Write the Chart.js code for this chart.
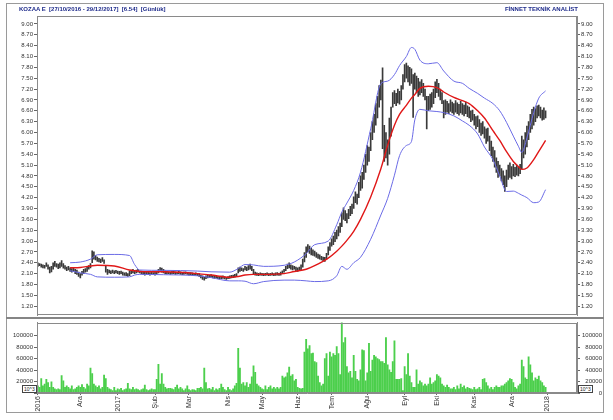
<!DOCTYPE html>
<html>
<head>
<meta charset="utf-8">
<script src="https://cdn.jsdelivr.net/npm/chart.js@4.4.1/dist/chart.umd.min.js"></script>
<style>
  body { margin: 0; background: #fff; width: 613px; height: 420px; overflow: hidden; position: relative; font-family: "Liberation Sans", Arial, sans-serif; }
  #frame { position: absolute; left: 6px; top: 3px; width: 598px; height: 410px; border: 1px solid #9a9a9a; box-sizing: border-box; }
  #divider { position: absolute; left: 6px; top: 317px; width: 598px; height: 2px; background: #858585; }
  .title { position: absolute; top: 5px; font-size: 6px; font-weight: bold; color: #1d2a8a; white-space: pre; line-height: 8px; }
  #titleLeft { left: 19px; }
  #titleRight { right: 35px; }
  #priceChart { position: absolute; left: 0; top: 0; }
  #volChart { position: absolute; left: 0; top: 318px; }
  .exp { position: absolute; top: 385px; font-size: 5px; line-height: 6px; border: 1px solid #444; padding: 0 1px; color: #222; background: #fff; }
</style>
</head>
<body>
<div id="frame"></div>
<canvas id="priceChart" width="613" height="320"></canvas>
<canvas id="volChart" width="613" height="102"></canvas>
<div id="divider"></div>
<div class="title" id="titleLeft">KOZAA E  [27/10/2016 - 29/12/2017]  [6.54]  [Günlük]</div>
<div class="title" id="titleRight">FİNNET TEKNİK ANALİST</div>
<div class="exp" style="left:22px">10^3</div>
<div class="exp" style="left:578px">10^3</div>
<script>
// trading day index 0 = 27/10/2016, 299 = 29/12/2017
const monthLabels = ["2016", "Ara", "2017", "Şub", "Mar", "Nis", "May", "Haz", "Tem", "Ağu", "Eyl", "Eki", "Kas", "Ara", "2018"];
const monthStart = [0, 25, 47, 69, 89, 112, 132, 153, 173, 194, 216, 235, 257, 279, 300];

const priceTicks = [1.2, 1.5, 1.8, 2.1, 2.4, 2.7, 3.0, 3.3, 3.6, 3.9, 4.2, 4.5, 4.8, 5.1, 5.4, 5.7, 6.0, 6.3, 6.6, 6.9, 7.2, 7.5, 7.8, 8.1, 8.4, 8.7, 9.0];
const volTicks = [0, 20000, 40000, 60000, 80000, 100000];

const lows = [
  2.30, 2.32, 2.28, 2.26, 2.25, 2.30, 2.22, 2.12, 2.15, 2.22, 2.30, 2.28, 2.24, 2.26, 2.30, 2.25,
  2.22, 2.18, 2.20, 2.16, 2.14, 2.16, 2.10, 2.08, 2.02, 1.98,
  2.06, 2.10, 2.14, 2.16, 2.22, 2.26,
  2.40, 2.50, 2.48, 2.44, 2.42, 2.40, 2.44, 2.38,
  2.14, 2.08, 2.12, 2.10, 2.12, 2.10, 2.12, 2.10, 2.08, 2.10, 2.06, 2.05, 2.04, 2.02, 2.04, 2.10,
  2.12, 2.10, 2.12, 2.14, 2.12, 2.10, 2.08,
  2.06, 2.08, 2.07, 2.06, 2.08, 2.07, 2.06, 2.08, 2.12, 2.16, 2.14, 2.12,
  2.10, 2.09, 2.10, 2.08, 2.09, 2.10, 2.08, 2.09, 2.10, 2.08, 2.07, 2.08, 2.09, 2.08, 2.06, 2.07, 2.06, 2.05, 2.06, 2.04,
  2.02, 1.98, 1.94, 1.92, 1.96, 1.98,
  1.99, 2.00, 1.98, 1.97, 1.98, 1.96, 1.95, 1.96, 1.97, 1.95, 1.94, 1.96, 1.97, 1.98, 1.99, 2.00, 2.02,
  2.12, 2.16, 2.18, 2.16, 2.20, 2.18, 2.20, 2.22, 2.18, 2.10,
  2.06, 2.05, 2.04, 2.06, 2.05, 2.04, 2.05, 2.06, 2.04, 2.05, 2.06, 2.04, 2.05, 2.06, 2.05, 2.06, 2.10, 2.14,
  2.18, 2.24, 2.26, 2.22, 2.20, 2.22, 2.18, 2.16, 2.18, 2.20, 2.28, 2.42, 2.55,
  2.70, 2.66, 2.62, 2.60, 2.58, 2.55, 2.52, 2.50, 2.48, 2.45, 2.44, 2.50,
  2.62, 2.74, 2.86, 2.90, 2.98, 3.06, 3.14, 3.24,
  3.40, 3.60, 3.56, 3.50, 3.62, 3.70, 3.76,
  3.90, 4.06, 4.02, 4.20, 4.40,
  4.46, 4.70, 4.90, 5.10, 5.20,
  5.50, 5.80, 6.00, 6.20, 6.40, 6.70, 6.90, 5.55,
  5.20, 5.30, 5.10, 5.40, 5.90,
  6.70, 6.80, 6.74, 6.82, 6.78, 6.90,
  7.20, 7.40, 7.50, 7.40, 7.30, 7.36, 6.42, 7.20, 7.10, 7.00,
  7.04, 7.10, 7.00, 6.90, 6.10, 6.60, 6.64, 6.70, 6.80, 6.96, 7.10, 7.00, 6.90, 6.80,
  6.40, 6.50, 6.56, 6.52, 6.58, 6.54, 6.50, 6.56, 6.52, 6.48, 6.54, 6.50, 6.46, 6.52, 6.44,
  6.40, 6.30, 6.34, 6.20, 6.10, 6.16, 6.00, 5.92, 5.96, 5.84, 5.70, 5.76,
  5.50, 5.36, 5.20, 5.04, 4.90, 4.76, 4.80, 4.66, 4.56, 4.37, 4.50,
  4.70, 4.76, 4.72, 4.80, 4.78, 4.82, 4.80, 4.86,
  5.00, 5.30, 5.40, 5.60, 5.80, 6.00, 6.10, 6.20,
  6.30, 6.40, 6.46, 6.40, 6.34, 6.36, 6.40
];

const highs = [
  2.40, 2.38, 2.36, 2.34, 2.33, 2.40, 2.34, 2.28, 2.30, 2.40, 2.44, 2.38, 2.36, 2.40, 2.46, 2.38,
  2.32, 2.28, 2.30, 2.26, 2.24, 2.26, 2.22, 2.20, 2.14, 2.10,
  2.16, 2.22, 2.24, 2.30, 2.32, 2.38,
  2.73, 2.70, 2.60, 2.56, 2.52, 2.50, 2.54, 2.48,
  2.30, 2.22, 2.20, 2.18, 2.20, 2.18, 2.19, 2.17, 2.16, 2.17, 2.14, 2.12, 2.13, 2.10, 2.18, 2.20,
  2.22, 2.18, 2.20, 2.22, 2.18, 2.17, 2.16,
  2.14, 2.15, 2.14, 2.13, 2.14, 2.13, 2.14, 2.16, 2.22, 2.27, 2.25, 2.22,
  2.18, 2.16, 2.15, 2.14, 2.16, 2.17, 2.15, 2.14, 2.18, 2.15, 2.13, 2.14, 2.15, 2.13, 2.12, 2.13, 2.12, 2.11, 2.12, 2.10,
  2.10, 2.06, 2.04, 2.00, 2.04, 2.05,
  2.06, 2.07, 2.04, 2.03, 2.05, 2.02, 2.01, 2.03, 2.04, 2.02, 2.00, 2.02, 2.04, 2.05, 2.06, 2.08, 2.10,
  2.26, 2.28, 2.26, 2.24, 2.30, 2.28, 2.32, 2.36, 2.30, 2.22,
  2.14, 2.12, 2.11, 2.12, 2.11, 2.10, 2.11, 2.12, 2.10, 2.11, 2.12, 2.10, 2.12, 2.13, 2.11, 2.14, 2.18, 2.22,
  2.30, 2.36, 2.40, 2.34, 2.32, 2.30, 2.28, 2.26, 2.28, 2.34, 2.50, 2.68, 2.84,
  2.90, 2.86, 2.80, 2.76, 2.72, 2.68, 2.64, 2.62, 2.58, 2.56, 2.55, 2.66,
  2.84, 2.96, 3.06, 3.14, 3.24, 3.30, 3.40, 3.50,
  3.78, 3.92, 3.84, 3.76, 3.88, 3.96, 4.02,
  4.22, 4.36, 4.30, 4.62, 4.80,
  4.90, 5.10, 5.40, 5.64, 5.60,
  6.00, 6.30, 6.50, 6.80, 7.00, 7.30, 7.45, 7.79,
  6.20, 6.00, 5.80, 6.40, 6.70,
  7.10, 7.16, 7.08, 7.20, 7.14, 7.30,
  7.60, 7.88, 7.92, 7.84, 7.80, 7.76, 7.60, 7.64, 7.56, 7.50,
  7.40, 7.46, 7.36, 7.20, 7.00, 7.00, 7.06, 7.10, 7.20, 7.40, 7.47, 7.36, 7.20, 7.10,
  6.88, 6.90, 6.86, 6.80, 6.90, 6.84, 6.80, 6.88, 6.82, 6.78, 6.86, 6.80, 6.76, 6.84, 6.74,
  6.70, 6.60, 6.62, 6.50, 6.44, 6.46, 6.36, 6.26, 6.30, 6.16, 6.10, 6.12,
  5.90, 5.76, 5.60, 5.50, 5.30, 5.20, 5.10, 5.00, 4.94, 4.80, 4.96,
  5.10, 5.16, 5.06, 5.12, 5.04, 5.10, 5.06, 5.12,
  5.90, 5.80, 6.00, 6.18, 6.30, 6.50, 6.64, 6.70,
  6.66, 6.74, 6.76, 6.70, 6.62, 6.68, 6.60
];

// volume, in units of 10^3
const volumes = [
  12700, 9900, 25000, 12700, 15500, 23900, 18300, 9900, 19400, 9900,
  7100, 5900, 7100, 5900, 30600, 21100, 9900, 12700, 9900, 7100,
  12700, 5900, 7100, 9900, 12700, 9900, 14900, 9900, 7100, 15500,
  12700, 43500, 33900, 15500, 12700, 9900, 12700, 7100, 9900, 31100,
  25000, 9900, 7100, 5900, 4300, 9900, 4300, 7100, 5900, 8200,
  4300, 5900, 7100, 17100, 7100, 5900, 9900, 5900, 7100,
  5900, 4300, 5900, 7100, 13800, 5900, 4300, 5400, 7100,
  5900, 5900, 23900, 50200, 15500, 33900, 15500, 9900, 7100, 8200,
  8200, 7100, 5900, 9900, 13800, 7100, 9900, 7100, 4300, 7100,
  12700, 5900, 4300, 5900, 5400, 4300, 8200, 8200, 9900, 7100,
  43500, 18300, 7100, 8200, 5900, 9900, 4300, 7100, 5400, 8200,
  15500, 9900, 5900, 4300, 9900, 5900, 4300, 7100, 12700, 17100,
  78200, 43500, 15500, 18300, 12700, 18300, 9900, 15500, 28300, 47400,
  36200, 15500, 12700, 9900, 7100, 5900, 12700, 5900, 9900, 12700,
  7100, 9900, 7100, 9900, 7100, 9900, 29500, 26700, 28300, 35100,
  45100,
  29500, 32300, 21100, 23900, 9900, 8200, 7100, 8200, 71500, 93900,
  77100, 82700, 68700, 69800, 54700, 53000, 29500, 18300, 12700, 15500,
  60300, 68700, 29500, 71500, 63100, 68700, 65900, 81000, 68700, 32300,
  126000, 88300, 96700, 46300, 35100, 37900, 26700, 65900, 37900, 23900,
  21100, 40700, 75400, 74300, 21100, 35100, 86600, 37900, 57500, 65900,
  63100, 60300, 58600, 54700, 54700, 51900, 96700, 49100, 40700, 36200,
  54700, 91100, 23900, 23900, 23900, 25000, 4300, 46300, 32300, 68700,
  29500, 18300, 9900, 9900, 40700, 15500, 21100, 18300, 12700, 15500,
  12700, 15500, 26700, 15500, 18300, 21100, 32300, 29500, 26700, 15500,
  12700, 9900, 13800, 9900, 7100, 7100, 9900, 5900, 12700, 7100,
  15500, 9900, 12700, 7100, 9900, 8200, 7100, 5900, 9900,
  5900, 7100, 9900, 5900, 23900, 25000, 18300, 12700, 7100,
  9900, 5900, 9900, 12700, 9900, 9900, 12700, 12700, 15500, 18300,
  21100, 25000, 23900, 18300, 9900, 7100, 12700, 15500, 57500, 46300,
  26700, 23900, 63100, 49100, 35100, 21100, 26700, 23900, 29500, 21100,
  18300, 12700, 9900
];

// 20 day bollinger band at these days
const bandDays = [19, 25, 31, 35, 45, 54, 57, 60, 74, 94, 102, 113, 118, 122, 127, 133, 145, 151, 158, 163, 171, 176, 179, 182, 186, 190, 196, 202, 206, 210, 213, 217, 220, 222, 225, 230, 235, 239, 245, 250, 254, 259, 263, 268, 272, 276, 280, 283, 285, 288, 292, 295, 299];
const upperBand = [2.40, 2.42, 2.50, 2.62, 2.63, 2.60, 2.35, 2.20, 2.19, 2.17, 2.15, 2.14, 2.24, 2.35, 2.34, 2.30, 2.33, 2.42, 2.65, 2.90, 3.00, 3.45, 3.80, 4.05, 4.40, 4.90, 6.10, 7.35, 7.42, 7.60, 7.85, 8.10, 8.35, 8.30, 8.00, 7.90, 7.93, 7.70, 7.42, 7.36, 7.22, 7.08, 6.95, 6.80, 6.60, 6.28, 5.90, 5.62, 5.45, 5.85, 6.55, 6.95, 7.15];
const middleBand = [2.26, 2.27, 2.31, 2.33, 2.31, 2.20, 2.18, 2.16, 2.15, 2.10, 2.06, 2.00, 2.02, 2.06, 2.08, 2.08, 2.10, 2.16, 2.22, 2.32, 2.53, 2.72, 2.86, 3.02, 3.27, 3.60, 4.22, 5.00, 5.65, 6.20, 6.50, 6.75, 6.95, 7.05, 7.22, 7.28, 7.24, 7.12, 6.97, 6.88, 6.80, 6.60, 6.40, 6.05, 5.78, 5.47, 5.20, 5.06, 4.98, 5.02, 5.25, 5.48, 5.78];
const lowerBand = [2.18, 2.12, 2.08, 2.01, 2.00, 2.01, 2.06, 2.08, 2.07, 2.04, 1.99, 1.90, 1.90, 1.89, 1.82, 1.88, 1.92, 1.92, 1.90, 1.88, 1.90, 2.04, 2.30, 2.22, 2.40, 2.55, 3.05, 3.72, 4.18, 4.82, 5.36, 5.64, 5.75, 6.35, 6.64, 6.60, 6.58, 6.55, 6.46, 6.32, 6.20, 5.96, 5.60, 5.25, 4.80, 4.37, 4.38, 4.32, 4.27, 4.20, 4.06, 4.08, 4.42];

const X_MIN = -0.5, X_MAX = 317.5;
const tickFont = { family: "Liberation Sans", size: 6 };
const tickColor = "#333";

const frameLines = {
  id: "frameLines",
  afterDraw(chart) {
    const { ctx, chartArea: a } = chart;
    ctx.save();
    ctx.strokeStyle = "#8a8a8a";
    ctx.lineWidth = 1;
    ctx.strokeRect(Math.round(a.left) + 0.5, Math.round(a.top) + 0.5, Math.round(a.right - a.left) - 1, Math.round(a.bottom - a.top) - 1);
    ctx.restore();
  }
};

function bandLine(values, color, width) {
  return {
    type: "line",
    data: bandDays.map((d, i) => ({ x: d, y: values[i] })),
    borderColor: color,
    borderWidth: width,
    pointRadius: 0,
    cubicInterpolationMode: "monotone",
    order: 0
  };
}

function yAxis(position, min, max, ticks, opts) {
  return {
    position: position,
    min: min,
    max: max,
    afterBuildTicks: (s) => { s.ticks = ticks.map((v) => ({ value: v })); },
    afterFit: (s) => { s.width = position === "left" ? 37 : 25; },
    ticks: Object.assign({ font: tickFont, color: tickColor, padding: 1 }, opts),
    grid: { drawOnChartArea: false, tickLength: 3, color: "#666" },
    border: { color: "#8a8a8a" }
  };
}

const priceFmt = (v) => Number(v).toFixed(2);

new Chart(document.getElementById("priceChart"), {
  data: {
    datasets: [
      bandLine(upperBand, "#6b6be6", 1),
      bandLine(lowerBand, "#6b6be6", 1),
      bandLine(middleBand, "#e01818", 1.4),
      {
        type: "bar",
        data: lows.map((lo, i) => ({ x: i, y: [lo, highs[i]] })),
        backgroundColor: "#3a3a3a",
        barThickness: 1,
        order: 1
      }
    ]
  },
  options: {
    responsive: false,
    animation: false,
    layout: { padding: { top: 16, bottom: 2, left: 0, right: 11 } },
    plugins: { legend: { display: false }, tooltip: { enabled: false } },
    scales: {
      x: { type: "linear", offset: false, min: X_MIN, max: X_MAX, display: false },
      y: yAxis("left", 0.945, 9.22, priceTicks, { callback: priceFmt }),
      y2: yAxis("right", 0.945, 9.22, priceTicks, { callback: priceFmt })
    }
  },
  plugins: [frameLines]
});

new Chart(document.getElementById("volChart"), {
  type: "bar",
  data: {
    datasets: [{
      data: volumes.map((v, i) => ({ x: i, y: v })),
      backgroundColor: "#4ccf4c",
      barThickness: 1.2
    }]
  },
  options: {
    responsive: false,
    animation: false,
    layout: { padding: { top: 1, bottom: 0, left: 0, right: 11 } },
    plugins: { legend: { display: false }, tooltip: { enabled: false } },
    scales: {
      x: {
        type: "linear",
        offset: false,
        min: X_MIN,
        max: X_MAX,
        afterBuildTicks: (s) => { s.ticks = monthStart.map((v) => ({ value: v })); },
        afterFit: (s) => { s.height = 27; },
        ticks: {
          font: { family: "Liberation Sans", size: 7 },
          color: tickColor,
          autoSkip: false,
          minRotation: 90,
          maxRotation: 90,
          padding: 1,
          callback: (v, i) => monthLabels[i]
        },
        grid: { drawOnChartArea: false, offset: false, tickLength: 2, color: "#666" },
        border: { color: "#8a8a8a" }
      },
      y: yAxis("left", 0, 123000, volTicks, { callback: (v) => (v === 0 ? "" : String(v)) }),
      y2: yAxis("right", 0, 123000, volTicks, { crossAlign: "far", callback: (v) => String(v) })
    }
  },
  plugins: [frameLines]
});
</script>
</body>
</html>
